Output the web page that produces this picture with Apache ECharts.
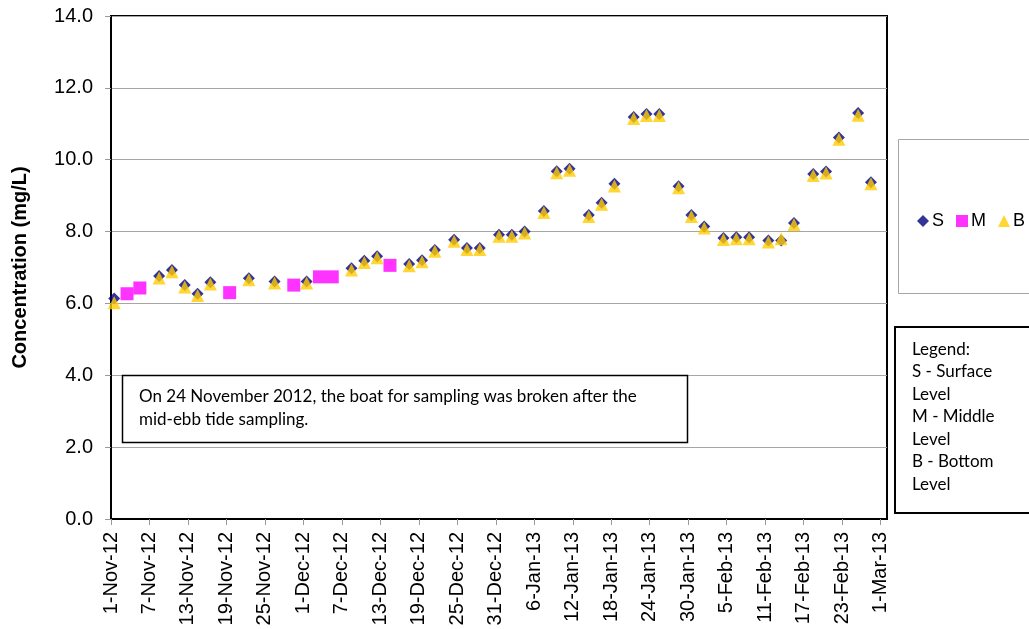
<!DOCTYPE html>
<html>
<head>
<meta charset="utf-8">
<script src="https://cdn.jsdelivr.net/npm/echarts@6/dist/echarts.min.js"></script>
<style>
html, body { margin: 0; padding: 0; background: #fff; }
#chart { width: 1029px; height: 629px; }
</style>
</head>
<body>
<div id="chart"></div>
<script>
// days after 1-Nov-12 (sampling at midday)
var sbDays = [0.5, 7.5, 9.5, 11.5, 13.5, 15.5, 21.5, 25.5, 30.5, 37.5, 39.5, 41.5,
  46.5, 48.5, 50.5, 53.5, 55.5, 57.5, 60.5, 62.5, 64.5, 67.5, 69.5, 71.5,
  74.5, 76.5, 78.5, 81.5, 83.5, 85.5, 88.5, 90.5, 92.5, 95.5, 97.5, 99.5,
  102.5, 104.5, 106.5, 109.5, 111.5, 113.5, 116.5, 118.5]
var sVals = [6.14, 6.76, 6.93, 6.51, 6.27, 6.59, 6.70, 6.61, 6.61, 6.98, 7.19, 7.31,
  7.10, 7.20, 7.49, 7.77, 7.54, 7.54, 7.91, 7.91, 8.00, 8.57, 9.68, 9.75,
  8.46, 8.80, 9.33, 11.19, 11.27, 11.27, 9.26, 8.46, 8.14, 7.82, 7.84, 7.84,
  7.75, 7.75, 8.24, 9.60, 9.67, 10.62, 11.30, 9.37]
var bVals = [6.02, 6.71, 6.88, 6.46, 6.22, 6.54, 6.66, 6.57, 6.57, 6.93, 7.14, 7.27,
  7.05, 7.16, 7.45, 7.73, 7.50, 7.50, 7.87, 7.87, 7.96, 8.53, 9.64, 9.71,
  8.42, 8.76, 9.27, 11.15, 11.23, 11.23, 9.22, 8.42, 8.10, 7.78, 7.80, 7.80,
  7.71, 7.80, 8.20, 9.56, 9.63, 10.57, 11.24, 9.33]
var mDays = [2.5, 4.5, 18.5, 28.5, 32.5, 34.5, 43.5]
var mVals = [6.27, 6.43, 6.30, 6.51, 6.74, 6.74, 7.06]
var tickLabels = ['1-Nov-12', '7-Nov-12', '13-Nov-12', '19-Nov-12', '25-Nov-12',
  '1-Dec-12', '7-Dec-12', '13-Dec-12', '19-Dec-12', '25-Dec-12', '31-Dec-12',
  '6-Jan-13', '12-Jan-13', '18-Jan-13', '24-Jan-13', '30-Jan-13', '5-Feb-13',
  '11-Feb-13', '17-Feb-13', '23-Feb-13', '1-Mar-13']

function pairs(xs, ys) {
  return xs.map(function (x, i) { return [x, ys[i]] })
}

var chart = echarts.init(document.getElementById('chart'))
var txt = 'Lato, "Open Sans", sans-serif'

chart.setOption({
  animation: false,
  backgroundColor: '#fff',
  grid: {
    left: 111, right: 142, top: 16, bottom: 110,
    outerBoundsMode: 'none', containLabel: false,
    show: true, borderColor: '#000', borderWidth: 2
  },
  legend: {
    left: 912, top: 207, width: 300,
    itemWidth: 12, itemHeight: 12, itemGap: 12,
    selectedMode: false,
    textStyle: { fontFamily: 'Liberation Sans', fontSize: 18, color: '#000', padding: [0, 0, 0, -2] },
    data: [
      { name: 'S', icon: 'diamond' },
      { name: 'M', icon: 'rect' },
      { name: 'B', icon: 'triangle' }
    ]
  },
  xAxis: {
    type: 'value', min: 0, max: 121, interval: 6,
    axisLine: { lineStyle: { color: '#000', width: 2 } },
    axisTick: { show: true, length: 6, lineStyle: { color: '#999' } },
    splitLine: { show: false },
    axisLabel: {
      rotate: 90, margin: 13, fontFamily: 'Liberation Sans', fontSize: 20, color: '#000',
      showMaxLabel: false,
      formatter: function (v) {
        if (v % 6 !== 0) return ''
        return tickLabels[v / 6] || ''
      }
    }
  },
  yAxis: {
    type: 'value', min: 0, max: 14, interval: 2,
    name: 'Concentration (mg/L)', nameLocation: 'middle', nameGap: 81,
    nameTextStyle: { fontFamily: 'Liberation Sans', fontWeight: 'bold', fontSize: 20, color: '#000' },
    axisLine: { show: true, lineStyle: { color: '#000', width: 2 } },
    axisTick: { show: true, length: 6, lineStyle: { color: '#999' } },
    splitLine: { lineStyle: { color: '#a6a6a6', width: 1 } },
    axisLabel: {
      margin: 18, fontFamily: 'Liberation Sans', fontSize: 20, color: '#000',
      formatter: function (v) { return v.toFixed(1) }
    }
  },
  series: [
    {
      name: 'S', type: 'scatter', symbol: 'diamond', symbolSize: 12,
      itemStyle: { color: '#000080' }, data: pairs(sbDays, sVals)
    },
    {
      name: 'M', type: 'scatter', symbol: 'rect', symbolSize: 13,
      itemStyle: { color: '#ff00ff' }, data: pairs(mDays, mVals)
    },
    {
      name: 'B', type: 'scatter', symbol: 'triangle', symbolSize: 13,
      itemStyle: { color: '#ffcc00' }, data: pairs(sbDays, bVals)
    }
  ],
  graphic: [
    {
      type: 'rect', z: 0, silent: true,
      shape: { x: 898.5, y: 139.5, width: 140, height: 154 },
      style: { fill: '#fff', stroke: '#a6a6a6', lineWidth: 1 }
    },
    {
      type: 'rect', z: 0, silent: true,
      shape: { x: 895, y: 327, width: 140, height: 186 },
      style: { fill: '#fff', stroke: '#000', lineWidth: 2 }
    },
    {
      type: 'text', z: 1, left: 912, top: 338,
      style: {
        text: 'Legend:\nS - Surface\nLevel\nM - Middle\nLevel\nB - Bottom\nLevel',
        font: '17px ' + txt, lineHeight: 22.5, fill: '#000'
      }
    },
    {
      type: 'rect', z: 10, silent: true,
      shape: { x: 122.5, y: 375.5, width: 565, height: 67 },
      style: { fill: '#fff', stroke: '#000', lineWidth: 1.5 }
    },
    {
      type: 'text', z: 11, left: 139, top: 385,
      style: {
        text: 'On 24 November 2012, the boat for sampling was broken after the\nmid-ebb tide sampling.',
        font: '17px ' + txt, lineHeight: 23, fill: '#000'
      }
    }
  ]
})
</script>
</body>
</html>
